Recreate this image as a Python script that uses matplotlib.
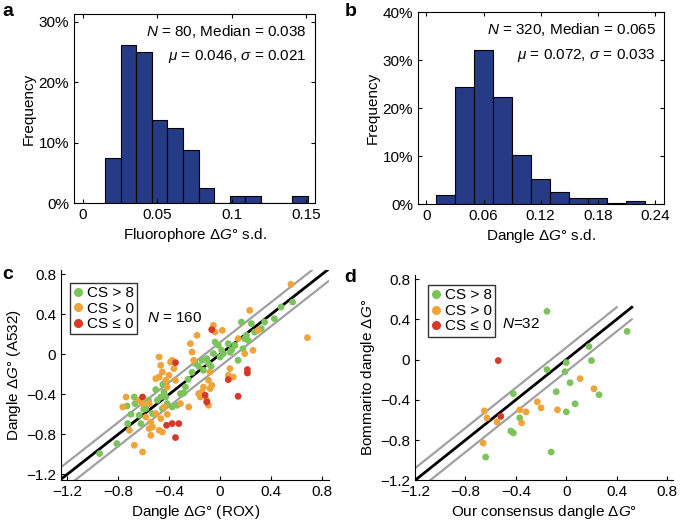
import numpy as np
import matplotlib
matplotlib.use("Agg")
import matplotlib.pyplot as plt
from matplotlib.lines import Line2D

plt.rcParams['font.family'] = ['Liberation Sans', 'DejaVu Sans']
plt.rcParams['mathtext.fontset'] = 'custom'
plt.rcParams['mathtext.rm'] = 'Liberation Sans'
plt.rcParams['mathtext.it'] = 'Liberation Sans:italic'
plt.rcParams['font.size'] = 11

# ---- panel a: fluorophore dG s.d. histogram (13 bins) ----
a_bin_start = 0.015
a_bin_width = 0.01046
a_pct = [7.5, 26.25, 25.0, 13.75, 12.5, 8.75, 2.5, 0, 1.25, 1.25, 0, 0, 1.25]

# ---- panel b: dangle dG s.d. histogram (11 bins) ----
b_bin_start = 0.01
b_bin_width = 0.02
b_pct = [1.9, 24.4, 32.0, 22.2, 10.3, 5.3, 2.5, 1.25, 1.25, 0.3, 0.6]

# ---- panel c: A532 vs ROX dangle dG ----
c_green_x = [-0.946, -0.811, -0.731, -0.674, -0.668, -0.725, -0.635, -0.622, -0.583, -0.562,
             -0.531, -0.505, -0.492, -0.466, -0.453, -0.440, -0.427, -0.415, -0.376, -0.337,
             -0.311, -0.285, -0.272, -0.194, -0.168, -0.142, -0.130, -0.104, -0.091, -0.052,
             -0.039, -0.013, 0.000, 0.013, 0.026, 0.065, 0.091, 0.117, 0.142, 0.168,
             0.181, 0.194, 0.207, 0.220, 0.246, 0.272, 0.324, 0.350, 0.427, 0.479,
             0.570, -0.25, -0.22, -0.60, -0.70, -0.45, 0.08, -0.07]
c_green_y = [-0.993, -0.893, -0.517, -0.427, -0.493, -0.693, -0.610, -0.693, -0.543, -0.460,
             -0.593, -0.353, -0.460, -0.427, -0.543, -0.377, -0.427, -0.493, -0.527, -0.510,
             -0.393, -0.387, -0.327, -0.093, -0.120, -0.060, -0.160, -0.043, -0.093, 0.007,
             0.123, 0.090, -0.027, 0.040, 0.007, 0.107, 0.047, 0.090, -0.060, 0.323,
             0.057, 0.157, 0.190, 0.140, 0.307, 0.223, 0.257, 0.323, 0.357, 0.473,
             0.523, -0.25, -0.18, -0.55, -0.60, -0.30, 0.02, -0.12]
c_orange_x = [-0.738, -0.764, -0.712, -0.674, -0.609, -0.635, -0.609, -0.583, -0.557, -0.544,
              -0.531, -0.505, -0.479, -0.466, -0.453, -0.479, -0.505, -0.440, -0.427, -0.415,
              -0.402, -0.389, -0.376, -0.363, -0.350, -0.479, -0.453, -0.544, -0.557, -0.415,
              -0.466, -0.311, -0.246, -0.233, -0.220, -0.207, -0.181, -0.168, -0.155, -0.142,
              -0.130, -0.104, -0.091, -0.078, -0.065, -0.091, -0.078, -0.052, -0.039, 0.018,
              0.065, 0.078, 0.104, 0.142, 0.194, 0.233, 0.259, 0.298, 0.557, 0.687]
c_orange_y = [-0.427, -0.527, -0.760, -0.910, -0.977, -0.460, -0.493, -0.627, -0.493, -0.677,
              -0.727, -0.593, -0.027, -0.110, -0.177, -0.227, -0.243, -0.527, -0.260, -0.327,
              -0.210, -0.077, -0.060, -0.143, -0.260, -0.760, -0.777, -0.810, -0.743, -0.600,
              -0.643, -0.493, -0.527, 0.107, 0.023, -0.060, 0.190, -0.393, -0.427, -0.377,
              -0.327, -0.460, -0.510, -0.343, -0.310, -0.260, -0.177, 0.290, 0.223, 0.240,
              -0.210, -0.143, -0.227, 0.157, 0.007, 0.440, 0.040, 0.240, 0.700, 0.167]
c_red_x = [-0.609, -0.350, -0.420, -0.376, -0.324, -0.350, -0.065, -0.117, -0.104, 0.065,
           0.142, 0.215, 0.215]
c_red_y = [-0.427, -0.083, -0.710, -0.693, -0.693, -0.833, 0.247, -0.410, -0.477, -0.253,
           -0.420, -0.153, -0.187]

# ---- panel d: Bommarito vs consensus dangle dG ----
d_green_x = [-0.153, 0.483, 0.18, 0.20, 0.0, -0.153, -0.01, 0.03, -0.08, 0.26,
             -0.42, 0.07, 0.0, -0.37, -0.44, -0.42, -0.12, -0.64]
d_green_y = [0.48, 0.28, 0.13, -0.01, -0.03, -0.10, -0.12, -0.23, -0.32, -0.35,
             -0.34, -0.44, -0.52, -0.58, -0.71, -0.73, -0.92, -0.97]
d_orange_x = [-0.65, -0.63, -0.66, -0.55, -0.37, -0.355, -0.32, -0.23, -0.20, -0.07, 0.11, 0.22]
d_orange_y = [-0.51, -0.58, -0.83, -0.62, -0.50, -0.63, -0.52, -0.42, -0.48, -0.50, -0.19, -0.29]
d_red_x = [-0.54, -0.52]
d_red_y = [-0.01, -0.565]

NAVY = '#263b85'
GREEN = '#7cc35b'
ORANGE = '#eea33b'
RED = '#d6382a'
GRAY = '#a0a0a0'

fig = plt.figure(figsize=(6.85, 5.22), dpi=100)


def hist_panel(rect, start, width, pct, xticks, xticklabels, ymax, yticks, xlim,
               xlabel, line1, line2, letter, letter_xy):
    ax = fig.add_axes(rect)
    centers = start + width * (np.arange(len(pct)) + 0.5)
    ax.bar(centers, np.array(pct) / 100.0, width=width, color=NAVY,
           edgecolor='black', linewidth=0.8)
    ax.set_xlim(*xlim)
    ax.set_ylim(0, ymax)
    ax.set_xticks(xticks)
    ax.set_xticklabels(xticklabels)
    ax.set_yticks(yticks)
    ax.set_yticklabels(['%d%%' % round(t * 100) for t in yticks])
    ax.tick_params(direction='in', length=3, top=True, right=True, labelsize=11)
    ax.set_xlabel(xlabel, fontsize=11, labelpad=3)
    ax.set_ylabel('Frequency', fontsize=11, labelpad=2)
    ax.text(0.965, 0.955, line1, transform=ax.transAxes, ha='right', va='top', fontsize=11)
    ax.text(0.965, 0.82, line2, transform=ax.transAxes, ha='right', va='top', fontsize=11)
    fig.text(letter_xy[0], letter_xy[1], letter, fontsize=14, fontweight='bold',
             ha='left', va='top')
    return ax


hist_panel([0.108, 0.611, 0.352, 0.362], a_bin_start, a_bin_width, a_pct,
           [0, 0.05, 0.1, 0.15], ['0', '0.05', '0.1', '0.15'], 0.313, [0, 0.1, 0.2, 0.3],
           (-0.0058, 0.156), 'Fluorophore Δ$G$° s.d.',
           '$N$ = 80, Median = 0.038', r'$\mu$ = 0.046, $\sigma$ = 0.021',
           'a', (0.004, 0.995))

hist_panel([0.610, 0.609, 0.360, 0.368], b_bin_start, b_bin_width, b_pct,
           [0, 0.06, 0.12, 0.18, 0.24], ['0', '0.06', '0.12', '0.18', '0.24'], 0.40,
           [0, 0.1, 0.2, 0.3, 0.4], (-0.009, 0.25), 'Dangle Δ$G$° s.d.',
           '$N$ = 320, Median = 0.065', r'$\mu$ = 0.072, $\sigma$ = 0.033',
           'b', (0.503, 0.995))


def scatter_panel(rect, gx, gy, ox, oy, rx, ry, xlim, ylim, xlabel, ylabel, ntext, ntext_xy,
                  line_span, upper_span, lower_span, band, leg_anchor, letter, letter_xy):
    ax = fig.add_axes(rect)
    for spine in ['top', 'right']:
        ax.spines[spine].set_visible(False)
    ax.plot(upper_span, np.array(upper_span) + band, color=GRAY, lw=1.6, zorder=1)
    ax.plot(lower_span, np.array(lower_span) - band, color=GRAY, lw=1.6, zorder=1)
    ax.plot(line_span, line_span, color='black', lw=2.0, zorder=1)
    ax.scatter(gx, gy, s=24, color=GREEN, edgecolors='none', zorder=3)
    ax.scatter(ox, oy, s=24, color=ORANGE, edgecolors='none', zorder=3)
    ax.scatter(rx, ry, s=24, color=RED, edgecolors='none', zorder=3)
    ax.set_xlim(*xlim)
    ax.set_ylim(*ylim)
    ticks = [-1.2, -0.8, -0.4, 0, 0.4, 0.8]
    labels = ['\u22121.2', '\u22120.8', '\u22120.4', '0', '0.4', '0.8']
    ax.set_xticks(ticks)
    ax.set_xticklabels(labels)
    ax.set_yticks(ticks)
    ax.set_yticklabels(labels)
    ax.tick_params(direction='in', length=3, labelsize=11)
    ax.set_xlabel(xlabel, fontsize=11, labelpad=3)
    ax.set_ylabel(ylabel, fontsize=11, labelpad=2)
    handles = [Line2D([], [], marker='o', ls='none', color=c, markersize=5.5)
               for c in (GREEN, ORANGE, RED)]
    leg = ax.legend(handles, ['CS > 8', 'CS > 0', 'CS \u2264 0'], loc='upper left',
                    bbox_to_anchor=leg_anchor, frameon=True, fancybox=False,
                    edgecolor='black', fontsize=11, handlelength=0.6, handletextpad=0.3,
                    borderpad=0.2, labelspacing=0.1, borderaxespad=0)
    leg.get_frame().set_linewidth(1.0)
    ax.text(ntext_xy[0], ntext_xy[1], ntext, transform=ax.transAxes, ha='left', va='center',
            fontsize=11)
    fig.text(letter_xy[0], letter_xy[1], letter, fontsize=14, fontweight='bold',
             ha='left', va='top')
    return ax


scatter_panel([0.089, 0.080, 0.392, 0.402], c_green_x, c_green_y, c_orange_x, c_orange_y,
              c_red_x, c_red_y, (-1.25, 0.86), (-1.26, 0.84),
              'Dangle Δ$G$° (ROX)', 'Dangle Δ$G$° (A532)', '$N$ = 160', (0.32, 0.775),
              [-1.26, 0.86], [-1.26, 0.72], [-1.14, 0.86], 0.12, (0.035, 0.94),
              'c', (0.004, 0.49))

scatter_panel([0.606, 0.080, 0.377, 0.393], d_green_x, d_green_y, d_orange_x, d_orange_y,
              d_red_x, d_red_y, (-1.2, 0.85), (-1.2, 0.84),
              'Our consensus dangle Δ$G$°', 'Bommarito dangle Δ$G$°', '$N$=32', (0.335, 0.76),
              [-1.2, 0.52], [-1.2, 0.40], [-1.08, 0.52], 0.12, (0.05, 0.95),
              'd', (0.503, 0.485))

fig.savefig('out.png', dpi=100)
